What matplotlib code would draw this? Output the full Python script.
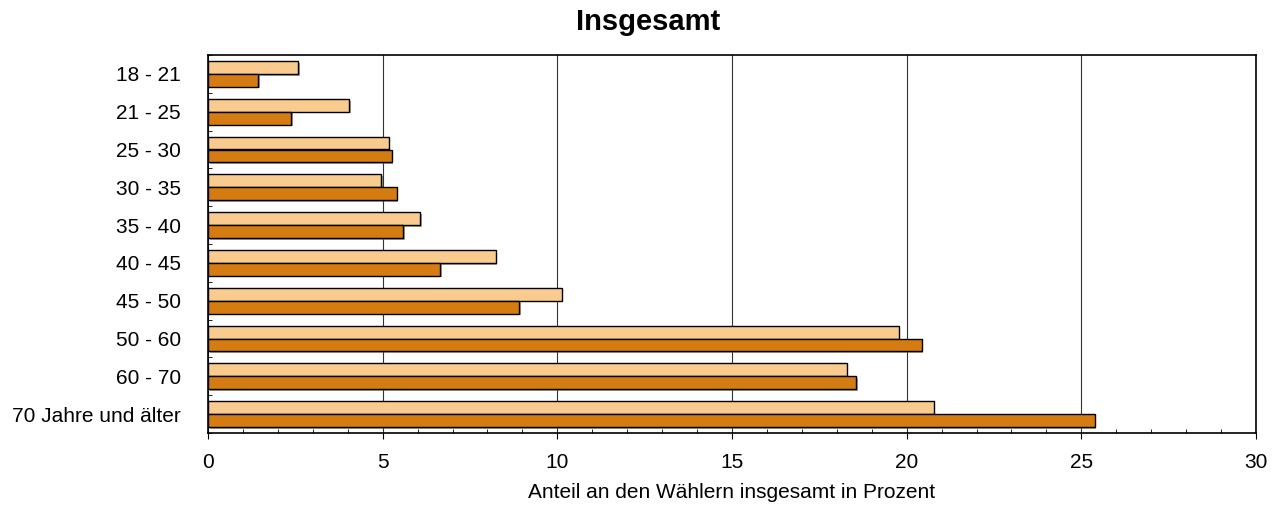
import numpy as np
import matplotlib.pyplot as plt
import matplotlib.patheffects as pe
from matplotlib.ticker import MultipleLocator

plt.rcParams['font.family'] = ['Liberation Sans', 'DejaVu Sans']

# Altersgruppen und Anteile in Prozent (hell = obere Balken, dunkel = untere Balken)
age_groups = ["18 - 21", "21 - 25", "25 - 30", "30 - 35", "35 - 40",
              "40 - 45", "45 - 50", "50 - 60", "60 - 70", "70 Jahre und älter"]
share_light = [2.58, 4.05, 5.17, 4.96, 6.08, 8.23, 10.12, 19.77, 18.28, 20.77]
share_dark = [1.44, 2.39, 5.26, 5.40, 5.59, 6.64, 8.91, 20.43, 18.55, 25.38]

light_color = '#F9CB8F'
dark_color = '#D47B12'

fig = plt.figure(figsize=(12.79, 5.05), dpi=100)
ax = fig.add_axes([208 / 1279, 1 - 433 / 505, (1256 - 208) / 1279, (433 - 55) / 505])

y = np.arange(len(age_groups))
h = 0.34
shadow = [pe.SimplePatchShadow(offset=(1.2, -1.2), shadow_rgbFace='#666666', alpha=0.6), pe.Normal()]
ax.barh(y - h / 2, share_light, height=h, color=light_color, edgecolor='black',
        linewidth=1, zorder=3, path_effects=shadow)
ax.barh(y + h / 2, share_dark, height=h, color=dark_color, edgecolor='black',
        linewidth=1, zorder=3, path_effects=shadow)

ax.set_xlim(0, 30)
ax.set_ylim(len(age_groups) - 0.5, -0.5)
ax.set_yticks(y)
ax.set_yticklabels(age_groups, fontsize=15)
ax.set_yticks(np.arange(-0.5, len(age_groups)), minor=True)
ax.tick_params(axis='y', which='major', length=0, pad=19.5)
ax.tick_params(axis='y', which='minor', length=3, direction='in')

ax.xaxis.set_major_locator(MultipleLocator(5))
ax.xaxis.set_minor_locator(MultipleLocator(1))
ax.tick_params(axis='x', which='major', length=4, direction='out', labelsize=15, pad=10.5)
ax.tick_params(axis='x', which='minor', length=3, direction='in')
ax.grid(axis='x', which='major', color='#333333', linewidth=0.8, zorder=0)

for s in ax.spines.values():
    s.set_linewidth(1.2)

ax.set_xlabel('Anteil an den Wählern insgesamt in Prozent', fontsize=15, labelpad=8)
fig.text(648 / 1279, 1 - 22 / 505, 'Insgesamt', ha='center', va='center',
         fontsize=21, fontweight='bold')

fig.savefig('out.png', dpi=100)
